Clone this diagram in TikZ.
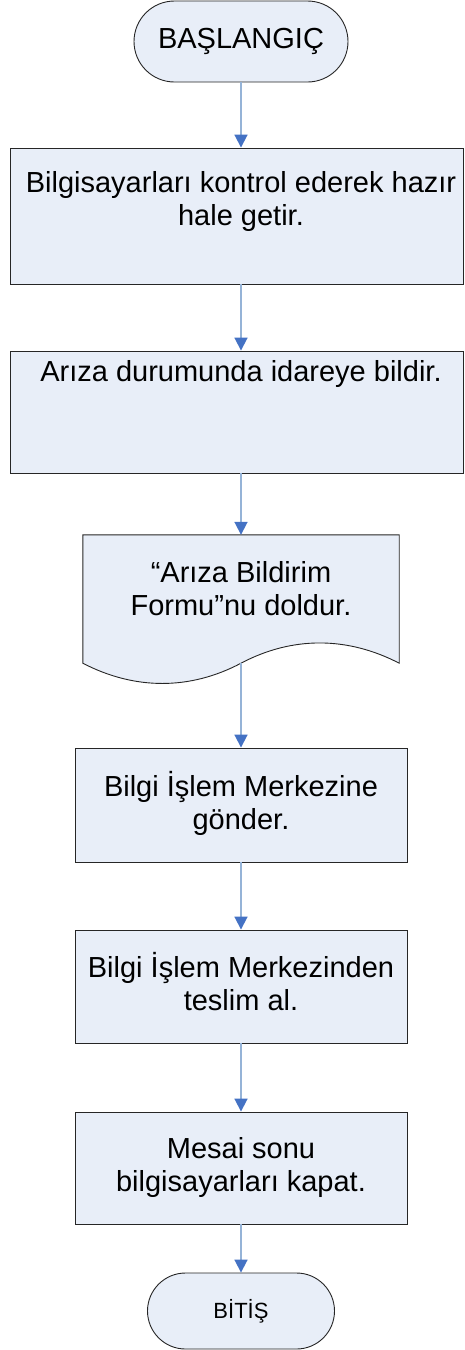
\documentclass[tikz,border=0pt]{standalone}
\usepackage{fontspec}
\setmainfont{Liberation Sans}
\usetikzlibrary{arrows.meta,shapes.misc}
\definecolor{boxfill}{HTML}{E8EEF8}
\definecolor{boxline}{HTML}{262626}
\definecolor{linkline}{HTML}{95B3D7}
\definecolor{linkhead}{HTML}{4472C4}
\begin{document}
\begin{tikzpicture}[x=1pt,y=-1pt,
  every node/.style={font=\fontsize{29}{33}\selectfont, inner sep=0pt, text=black},
  procbox/.style={rectangle, draw=boxline, fill=boxfill, line width=0.9pt, align=center},
  termbox/.style={rounded rectangle, draw=boxline, fill=boxfill, line width=0.9pt},
  boxtext/.style={align=center},
  link/.style={draw=linkline, line width=1.8pt, -{Triangle[width=13pt,length=13pt,color=linkhead]}}]
\useasboundingbox (0,0) rectangle (464,1350);

\node[termbox, minimum width=214pt, minimum height=81pt] (start) at (241,41.5) {BAŞLANGIÇ};

\node[procbox, minimum width=453pt, minimum height=136pt] (b1) at (237,216) {};
\node[boxtext] (t1) at (241,201.9) {\strut Bilgisayarları kontrol ederek hazır\\hale getir.\strut};

\node[procbox, minimum width=453pt, minimum height=122pt] (b2) at (237,412) {};
\node[boxtext] (t2) at (241,374.4) {\strut Arıza durumunda idareye bildir.};

\node[rectangle, minimum width=316pt, minimum height=128pt] (doc) at (241,599) {};
\path[draw=boxline, fill=boxfill, line width=0.9pt]
  (doc.north west) -- (doc.north east) -- (doc.south east)
  .. controls +(-52,-27) and +(51,-27) .. (doc.south)
  .. controls +(-51,27) and +(52,27) .. (doc.south west) -- cycle;
\node[boxtext] (t3) at (241,591.9) {\strut “Arıza Bildirim\\Formu”nu doldur.\strut};

\node[procbox, minimum width=332pt, minimum height=114pt] (b3) at (241,805) {\strut Bilgi İşlem Merkezine\\gönder.\strut};
\node[procbox, minimum width=332pt, minimum height=113pt] (b4) at (241,986.5) {\strut Bilgi İşlem Merkezinden\\teslim al.\strut};
\node[procbox, minimum width=332pt, minimum height=112pt] (b5) at (241,1168) {\strut Mesai sonu\\bilgisayarları kapat.\strut};

\node[termbox, minimum width=187pt, minimum height=76pt, font=\fontsize{22}{26}\selectfont] (end) at (241,1311) {BİTİŞ};

\draw[link] (start.south) -- (b1.north -| start.south);
\draw[link] (b1.south -| start.south) -- (b2.north -| start.south);
\draw[link] (b2.south -| start.south) -- (doc.north);
\draw[link] (doc.south) -- (b3.north);
\draw[link] (b3.south) -- (b4.north);
\draw[link] (b4.south) -- (b5.north);
\draw[link] (b5.south) -- (end.north);
\end{tikzpicture}
\end{document}
